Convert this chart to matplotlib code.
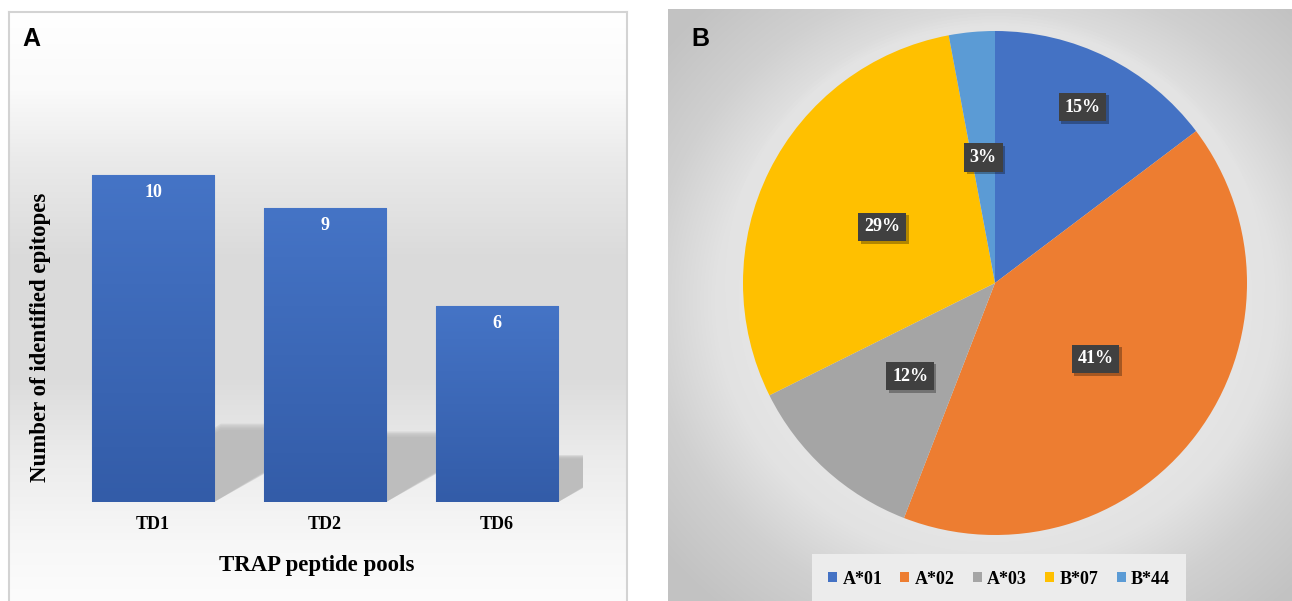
import matplotlib.pyplot as plt
import numpy as np
from matplotlib.patches import Polygon, Circle, Patch
from matplotlib.colors import LinearSegmentedColormap
from matplotlib.transforms import offset_copy

# Panel A: epitopes identified per TRAP peptide pool
pools = ["TD1", "TD2", "TD6"]
epitopes = [10, 9, 6]

# Panel B: epitopes per HLA allele
alleles = ["A*01", "A*02", "A*03", "B*07", "B*44"]
allele_counts = [5, 14, 4, 10, 1]
allele_colors = ["#4472C4", "#ED7D31", "#A5A5A5", "#FFC000", "#5B9BD5"]

W, H = 1292, 601
serif = "Liberation Serif"
sans = "Liberation Sans"

fig = plt.figure(figsize=(W / 100, H / 100), dpi=100)
fig.patch.set_facecolor("white")


def px_axes(x0, y0, x1, y1, **kw):
    # axes from pixel box (top-left origin)
    return fig.add_axes([x0 / W, 1 - y1 / H, (x1 - x0) / W, (y1 - y0) / H], **kw)


# ---------- panel A background ----------
bgA = px_axes(9, 12, 627, 601)
stops_y = np.array([12, 90, 160, 260, 380, 460, 540, 601])
stops_v = np.array([255, 250, 234, 218, 220, 236, 247, 252]) / 255
yy = np.arange(12, 601)
col = np.interp(yy, stops_y, stops_v)
grad = np.repeat(col[:, None], 2, axis=1)
bgA.imshow(np.dstack([grad] * 3), aspect="auto", extent=[0, 1, 0, 1])
bgA.set_xticks([])
bgA.set_yticks([])
for s in ["top", "left", "right"]:
    bgA.spines[s].set_color("#d3d3d3")
    bgA.spines[s].set_linewidth(1.5)
bgA.spines["bottom"].set_visible(False)
bgA.text(0.022, 0.955, "A", transform=bgA.transAxes, family=sans,
         fontweight="bold", fontsize=18, ha="left", va="center")

# ---------- panel A bars ----------
ax = px_axes(67, 110, 583, 502)
ax.patch.set_alpha(0)
x = np.arange(len(pools))
width = 0.71

# perspective shadows behind the bars (soft top edge from stacked layers)
for xi, v in zip(x, epitopes):
    x0, x1 = xi - width / 2, xi + width / 2
    shift = 0.075 * v
    for j in range(5):
        top = 0.235 * v * (1.02 - 0.02 * j)
        ax.add_patch(Polygon([(x0, 0), (x1, 0), (x1 + shift, top),
                              (x0 + shift, top)], closed=True,
                             fc="#b5b5b5", ec="none", alpha=0.3, zorder=1))

bars = ax.bar(x, epitopes, width=width, color="#3E68B8",
              edgecolor="#5E8AD2", linewidth=0.8, zorder=2)
bar_cmap = LinearSegmentedColormap.from_list("barfade", ["#335CA8", "#4574C6"])
ramp = np.linspace(0, 1, 256)[:, None]
for b in bars:
    im = ax.imshow(ramp, cmap=bar_cmap, origin="lower", aspect="auto",
                   extent=[b.get_x(), b.get_x() + b.get_width(), 0, b.get_height()],
                   zorder=2.5)
    im.set_clip_path(b)
    ax.annotate(str(int(b.get_height())), (b.get_x() + b.get_width() / 2, b.get_height()),
                xytext=(0, -12.5), textcoords="offset points", ha="center", va="center",
                color="white", family=serif, fontweight="bold", fontsize=13, zorder=3)
ax.set_xlim(-0.5, 2.5)
ax.set_ylim(0, 12)

ax.set_xticks(x)
ax.set_xticklabels(pools, family=serif, fontweight="bold", fontsize=13)
ax.tick_params(axis="x", length=0, pad=10)
ax.set_yticks([])
for s in ax.spines.values():
    s.set_visible(False)
ax.set_xlabel("TRAP peptide pools", family=serif, fontweight="bold", fontsize=16.5)
ax.xaxis.set_label_coords(0.4845, -0.163)
ax.xaxis.label.set_va("center")
ax.set_ylabel("Number of identified epitopes", family=serif, fontweight="bold", fontsize=16.5)
ax.yaxis.set_label_coords(-0.052, 0.421)
ax.yaxis.label.set_va("center")

# ---------- panel B background ----------
bgB = px_axes(668, 9, 1292, 601)
gx, gy = np.meshgrid(np.arange(668, 1292), np.arange(9, 601))
d = np.hypot((gx - 995) / 330, (gy - 300) / 310)
shade = np.interp(d, [0, 0.6, 0.85, 1.05, 1.3], [240, 233, 226, 208, 194]) / 255
bgB.imshow(np.dstack([shade] * 3), aspect="auto", extent=[0, 1, 0, 1])
bgB.set_xticks([])
bgB.set_yticks([])
for s in bgB.spines.values():
    s.set_visible(False)
bgB.text(0.038, 0.95, "B", transform=bgB.transAxes, family=sans,
         fontweight="bold", fontsize=18, ha="left", va="center")

# ---------- panel B pie ----------
pax = px_axes(995 - 315, 283 - 315, 995 + 315, 283 + 315)
pax.patch.set_alpha(0)
for j in range(6):
    pax.add_patch(Circle((0, 0), 1.0 + 0.012 * (j + 1), fc="#efefef", ec="none",
                         alpha=0.08, zorder=0))
wedges, _ = pax.pie(allele_counts, colors=allele_colors, startangle=90,
                    counterclock=False, radius=1.0,
                    wedgeprops=dict(linewidth=0, zorder=2))
pax.set_xlim(-1.25, 1.25)
pax.set_ylim(-1.25, 1.25)

total = sum(allele_counts)
label_dist = [0.78, 0.5, 0.5, 0.5, 0.5]
for w, c, r in zip(wedges, allele_counts, label_dist):
    ang = np.deg2rad((w.theta1 + w.theta2) / 2)
    lx, ly = r * np.cos(ang), r * np.sin(ang)
    txt = f"{100 * c / total:.0f}%"
    pax.text(lx, ly, txt, ha="center", va="center", color="none",
             family=serif, fontweight="bold", fontsize=13, zorder=3,
             transform=offset_copy(pax.transData, fig=fig, x=2.5, y=-2.5, units="dots"),
             bbox=dict(boxstyle="square,pad=0.32", fc="black", ec="none", alpha=0.3))
    pax.text(lx, ly, txt, ha="center", va="center", color="white",
             family=serif, fontweight="bold", fontsize=13, zorder=4,
             bbox=dict(boxstyle="square,pad=0.32", fc="#404040", ec="none"))

handles = [Patch(fc=c, ec="none", label=a) for a, c in zip(alleles, allele_colors)]
leg = fig.legend(handles=handles, ncol=5, loc="center", bbox_to_anchor=(999 / W, 1 - 579 / H),
                 frameon=True, fancybox=False, facecolor="#ececec", edgecolor="none",
                 framealpha=1, handlelength=0.5, handleheight=0.5, handletextpad=0.3,
                 columnspacing=1.0, borderpad=0.9,
                 prop=dict(family=serif, weight="bold", size=13))

fig.savefig("out.png", dpi=100)
